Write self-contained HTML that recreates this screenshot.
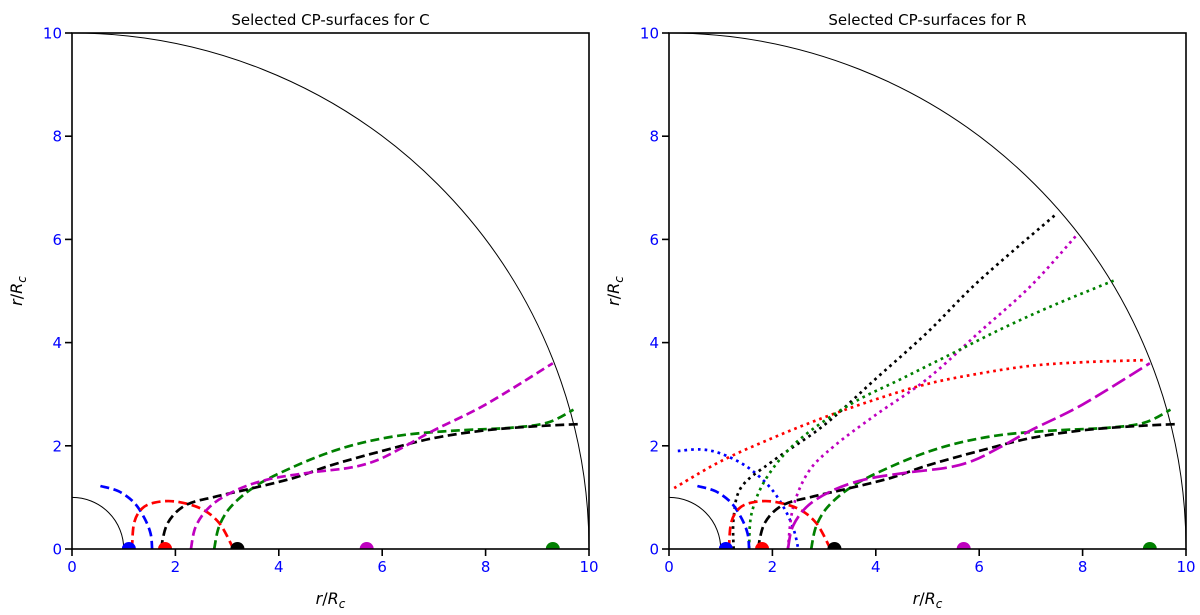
<!DOCTYPE html>
<html><head><meta charset="utf-8"><style>
body{margin:0;background:#fff;}
svg{display:block;font-family:"DejaVu Sans","Liberation Sans",sans-serif;}
</style></head><body>
<svg id="chart" width="1200" height="615" viewBox="0 0 1200 615"></svg>
<script>
const dotsX = [1.1, 1.8, 3.2, 5.7, 9.3];
const dotColors = ['#0000ff', '#ff0000', '#000000', '#bf00bf', '#008000'];
const ticks = [0, 2, 4, 6, 8, 10];
const titles = ['Selected CP-surfaces for C', 'Selected CP-surfaces for R'];
const blueDashX = [0.55, 0.9, 1.2, 1.4, 1.52, 1.55];
const blueDashY = [1.22, 1.12, 0.9, 0.6, 0.3, 0];
const redDashX = [1.16, 1.2, 1.35, 1.6, 2.0, 2.5, 2.85, 3.1];
const redDashY = [0, 0.5, 0.78, 0.9, 0.92, 0.78, 0.5, 0.05];
const blackDashX = [1.72, 1.85, 2.2, 2.8, 3.5, 4.3, 5.0, 6.0, 7.0, 8.0, 9.0, 9.8];
const blackDashY = [0, 0.5, 0.85, 1.02, 1.18, 1.38, 1.62, 1.9, 2.15, 2.3, 2.38, 2.42];
const magDashX = [2.3, 2.4, 2.7, 3.2, 3.8, 4.6, 5.4, 5.9, 6.4, 7.0, 8.0, 9.3];
const magDashY = [0, 0.45, 0.85, 1.15, 1.35, 1.48, 1.58, 1.72, 1.97, 2.3, 2.8, 3.6];
const greenDashX = [2.75, 2.85, 3.1, 3.6, 4.3, 5.0, 5.7, 6.5, 7.5, 8.5, 9.2, 9.7];
const greenDashY = [0, 0.45, 0.85, 1.25, 1.6, 1.88, 2.08, 2.22, 2.3, 2.35, 2.45, 2.7];
const blueDotX = [0.17, 0.6, 1.0, 1.5, 1.95, 2.25, 2.42, 2.5];
const blueDotY = [1.9, 1.93, 1.85, 1.6, 1.2, 0.75, 0.35, 0];
const redDotX = [0.1, 1.0, 2.0, 3.0, 4.0, 5.0, 6.0, 7.0, 8.0, 9.2];
const redDotY = [1.18, 1.7, 2.15, 2.55, 2.9, 3.2, 3.4, 3.55, 3.62, 3.66];
const blackDotX = [1.25, 1.25, 1.4, 2.0, 3.0, 4.0, 5.0, 6.0, 7.5];
const blackDotY = [0, 0.6, 1.2, 1.7, 2.4, 3.3, 4.2, 5.2, 6.5];
const magDotX = [2.3, 2.4, 2.7, 3.2, 4.0, 5.0, 6.0, 7.0, 7.9];
const magDotY = [0, 0.8, 1.5, 2.0, 2.6, 3.3, 4.2, 5.1, 6.1];
const greenDotX = [1.55, 1.6, 1.9, 2.5, 3.5, 4.5, 5.5, 6.5, 7.5, 8.6];
const greenDotY = [0, 0.7, 1.4, 2.1, 2.8, 3.3, 3.8, 4.3, 4.75, 5.2];

const NS = 'http://www.w3.org/2000/svg';
const svg = document.getElementById('chart');
function mk(tag, attrs, parent) {
  const e = document.createElementNS(NS, tag);
  for (const k in attrs) e.setAttribute(k, attrs[k]);
  (parent || svg).appendChild(e);
  return e;
}
function smooth(pts) {
  let d = 'M' + pts[0][0].toFixed(1) + ',' + pts[0][1].toFixed(1);
  for (let i = 0; i < pts.length - 1; i++) {
    const p0 = pts[Math.max(0, i - 1)], p1 = pts[i], p2 = pts[i + 1], p3 = pts[Math.min(pts.length - 1, i + 2)];
    const c1 = [p1[0] + (p2[0] - p0[0]) / 6, p1[1] + (p2[1] - p0[1]) / 6];
    const c2 = [p2[0] - (p3[0] - p1[0]) / 6, p2[1] - (p3[1] - p1[1]) / 6];
    d += ' C' + c1.join(',') + ' ' + c2.join(',') + ' ' + p2.join(',');
  }
  return d;
}
const defs = mk('defs', {});
function panel(idx, left) {
  const g = mk('g', {});
  
  
  const x0 = left, x1 = left + 517, y0 = 549, y1 = 33;
  const sx = v => x0 + v * (x1 - x0) / 10;
  const sy = v => y0 - v * (y0 - y1) / 10;
  const cp = mk('clipPath', {id: 'clip' + idx}, defs);
  mk('rect', {x: x0, y: y1, width: x1 - x0, height: y0 - y1}, cp);
  const inner = mk('g', {'clip-path': 'url(#clip' + idx + ')'}, g);
  const curve = (xs, ys, color, dash, name) => {
    const pts = xs.map((x, i) => [sx(x), sy(ys[i])]);
    const p = mk('path', {d: smooth(pts), fill: 'none', stroke: color, 'stroke-width': 2.7, 'stroke-dasharray': dash}, inner);
    
    
  };
  const big = mk('path', {d: `M${sx(0)},${sy(10)} A${sx(10)-sx(0)},${sy(0)-sy(10)} 0 0 1 ${sx(10)},${sy(0)}`, fill: 'none', stroke: '#000', 'stroke-width': 1}, inner);
  
  
  const small = mk('path', {d: `M${sx(0)},${sy(1)} A${sx(1)-sx(0)},${sy(0)-sy(1)} 0 0 1 ${sx(1)},${sy(0)}`, fill: 'none', stroke: '#000', 'stroke-width': 1}, inner);
  
  
  const dash = '9,4.5';
  if (idx === 1) {
    curve(blueDotX, blueDotY, '#0000ff', '2.7,4', 'blue-dotted-surface');
    curve(redDotX, redDotY, '#ff0000', '2.7,4', 'red-dotted-surface');
    curve(blackDotX, blackDotY, '#000', '2.7,4', 'black-dotted-surface');
    curve(magDotX, magDotY, '#bf00bf', '2.7,4', 'magenta-dotted-surface');
    curve(greenDotX, greenDotY, '#008000', '2.7,4', 'green-dotted-surface');
  }
  curve(blueDashX, blueDashY, '#0000ff', dash, 'blue-dashed-surface');
  curve(redDashX, redDashY, '#ff0000', dash, 'red-dashed-surface');
  curve(greenDashX, greenDashY, '#008000', dash, 'green-dashed-surface');
  curve(blackDashX, blackDashY, '#000', dash, 'black-dashed-surface');
  curve(magDashX, magDashY, '#bf00bf', idx === 1 ? '15,5' : dash, 'magenta-dashed-surface');
  dotsX.forEach((v, i) => {
    const c = mk('circle', {cx: sx(v), cy: sy(0), r: 7, fill: dotColors[i]}, inner);
    
    
  });
  const fr = mk('rect', {x: x0, y: y1, width: x1 - x0, height: y0 - y1, fill: 'none', stroke: '#000', 'stroke-width': 1.6}, g);
  
  
  ticks.forEach(t => {
    mk('line', {x1: sx(t), x2: sx(t), y1: y0, y2: y0 + 7, stroke: '#000', 'stroke-width': 1.6}, g);
    const tx = mk('text', {x: sx(t), y: y0 + 23, 'text-anchor': 'middle', 'font-size': 15, fill: '#0000ff'}, g);
    tx.textContent = t;
    
    
    mk('line', {x1: x0 - 7, x2: x0, y1: sy(t), y2: sy(t), stroke: '#000', 'stroke-width': 1.6}, g);
    const ty = mk('text', {x: x0 - 10, y: sy(t) + 5.5, 'text-anchor': 'end', 'font-size': 15, fill: '#0000ff'}, g);
    ty.textContent = t;
    
    
  });
  const ti = mk('text', {x: (x0 + x1) / 2, y: 25, 'text-anchor': 'middle', 'font-size': 15}, g);
  ti.textContent = titles[idx];
  
  
  const xl = mk('text', {x: (x0 + x1) / 2, y: 604, 'text-anchor': 'middle', 'font-size': 16}, g);
  xl.innerHTML = '<tspan font-style="italic">r</tspan>/<tspan font-style="italic">R</tspan><tspan font-style="italic" font-size="12" dy="4">c</tspan>';
  
  
  const yl = mk('text', {x: 0, y: 0, 'text-anchor': 'middle', 'font-size': 16, transform: `translate(${x0 - 50},${(y0 + y1) / 2}) rotate(-90)`}, g);
  yl.innerHTML = '<tspan font-style="italic">r</tspan>/<tspan font-style="italic">R</tspan><tspan font-style="italic" font-size="12" dy="4">c</tspan>';
  
  
}
panel(0, 72);
panel(1, 669);
</script>
</body></html>
